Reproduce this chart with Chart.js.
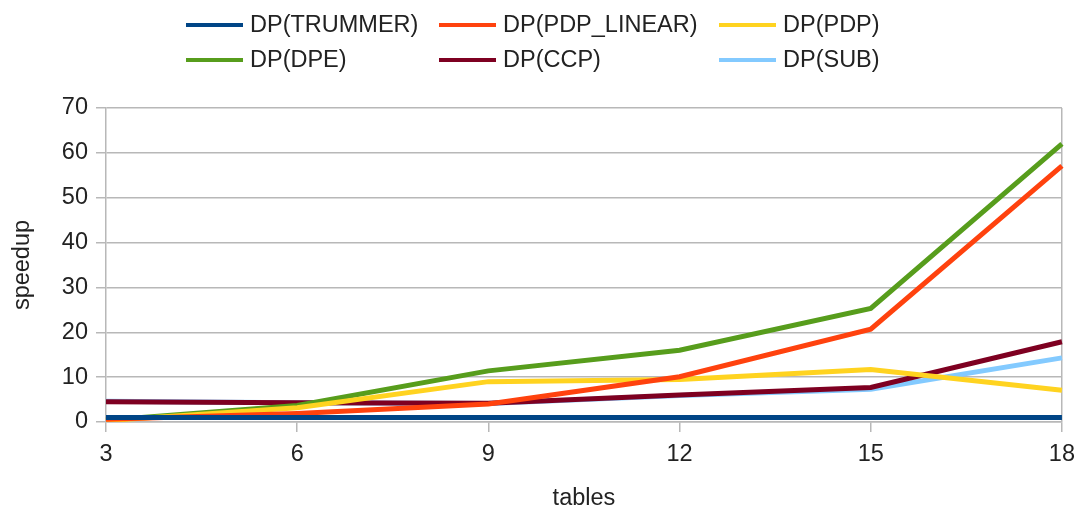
<!DOCTYPE html>
<html>
<head>
<meta charset="utf-8">
<script src="https://cdn.jsdelivr.net/npm/chart.js@4/dist/chart.umd.min.js"></script>
<style>
  html, body { margin: 0; padding: 0; background: #fff; }
  #wrap { position: relative; width: 1083px; height: 513px; }
  #legend {
    position: absolute; left: 186px; top: 7px;
    display: grid; grid-template-columns: 253px 280px auto; grid-auto-rows: 35px;
    font-family: "Liberation Sans", Arial, sans-serif; font-size: 23.5px; color: #222;
  }
  .item { display: flex; align-items: center; white-space: nowrap; }
  .swatch { width: 57px; height: 4px; margin-right: 7px; }
</style>
</head>
<body>
<div id="wrap">
  <div id="legend"></div>
  <canvas id="chart" width="1083" height="513"></canvas>
</div>
<script>
const tables = ['3', '6', '9', '12', '15', '18'];

const trummer   = [1, 1, 1, 1, 1, 1];
const pdpLinear = [0.6, 1.9, 4.0, 10.1, 20.7, 57.1];
const pdp       = [0.3, 3.2, 9.0, 9.5, 11.7, 7.1];
const dpe       = [0.4, 3.7, 11.4, 16.0, 25.3, 62.0];
const ccp       = [4.5, 4.3, 4.2, 6.0, 7.7, 17.9];
const sub       = [4.6, 4.3, 4.1, 5.9, 7.3, 14.3];

const yTicks = [0, 10, 20, 30, 40, 50, 60, 70];

const gridColor = '#b8b8b8';
const font = { family: '"Liberation Sans", Arial, sans-serif', size: 23.5 };

const series = [
  { label: 'DP(TRUMMER)', data: trummer, color: '#004586' },
  { label: 'DP(PDP_LINEAR)', data: pdpLinear, color: '#ff420e' },
  { label: 'DP(PDP)', data: pdp, color: '#ffd320' },
  { label: 'DP(DPE)', data: dpe, color: '#579d1c' },
  { label: 'DP(CCP)', data: ccp, color: '#7e0021' },
  { label: 'DP(SUB)', data: sub, color: '#83caff' },
];

// html legend, laid out in columns like the original
const legendEl = document.getElementById('legend');
series.forEach(s => {
  const item = document.createElement('div');
  item.className = 'item';
  const sw = document.createElement('span');
  sw.className = 'swatch';
  sw.style.background = s.color;
  const txt = document.createElement('span');
  txt.textContent = s.label;
  item.appendChild(sw);
  item.appendChild(txt);
  legendEl.appendChild(item);
});

const ctx = document.getElementById('chart').getContext('2d');
new Chart(ctx, {
  type: 'line',
  data: {
    labels: tables,
    datasets: series.map(s => ({
      label: s.label,
      data: s.data,
      borderColor: s.color,
      backgroundColor: s.color,
      borderWidth: 5,
      pointRadius: 0,
      tension: 0,
      fill: false,
    })),
  },
  options: {
    responsive: false,
    animation: false,
    layout: { padding: { top: 108, right: 21, left: 0, bottom: 0 } },
    plugins: { legend: { display: false }, tooltip: { enabled: false } },
    scales: {
      x: {
        offset: false,
        border: { color: gridColor, width: 1.5 },
        grid: {
          color: (c) => (c.index === tables.length - 1 ? gridColor : 'rgba(0,0,0,0)'),
          tickColor: gridColor,
          lineWidth: 1.5,
          tickLength: 10,
        },
        ticks: { font, color: '#222', padding: 8, maxRotation: 0 },
        title: { display: true, text: 'tables', font, color: '#222', padding: { top: 0, bottom: 0 } },
        afterFit: (scale) => { scale.height = 91; },
      },
      y: {
        min: 0,
        max: 70,
        afterBuildTicks: (scale) => { scale.ticks = yTicks.map(v => ({ value: v })); },
        border: { color: gridColor, width: 1.5 },
        grid: { color: gridColor, lineWidth: 1.5, tickLength: 10 },
        ticks: { font, color: '#222', padding: 8 },
        title: { display: true, text: 'speedup', font, color: '#222', padding: { top: 8, bottom: 0 } },
        afterFit: (scale) => { scale.width = 106; },
      },
    },
  },
});
</script>
</body>
</html>
